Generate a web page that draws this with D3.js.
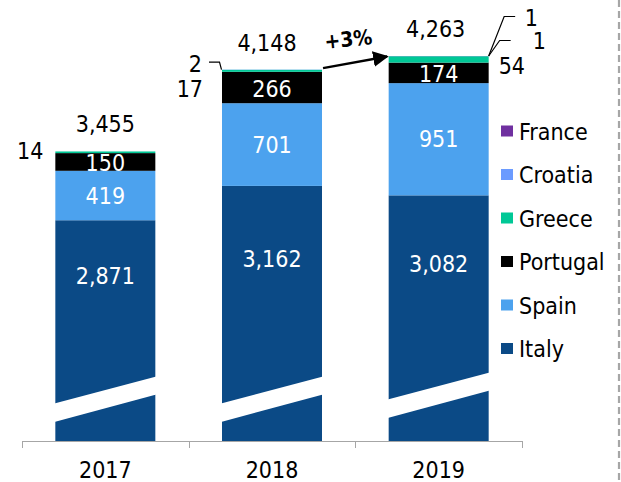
<!DOCTYPE html>
<html><head><meta charset="utf-8">
<script src="https://cdn.jsdelivr.net/npm/d3@7"></script>
<style>
html,body{margin:0;padding:0;background:#fff;}
svg{display:block;font-family:"DejaVu Sans Condensed","DejaVu Sans",sans-serif;font-stretch:condensed;}
</style></head>
<body>
<svg id="c" width="621" height="482"></svg>
<script>
const years = ["2017", "2018", "2019"];
const italy = [2871, 3162, 3082];
const spain = [419, 701, 951];
const portugal = [150, 266, 174];
const greece = [14, 17, 54];
const croatia = [0, 2, 1];
const france = [0, 0, 1];
const totals = [3455, 4148, 4263];
const growthLabel = "+3%";
const axisBreakValue = 1000;

const seriesNames = ["Italy", "Spain", "Portugal", "Greece", "Croatia", "France"];
const seriesValues = [italy, spain, portugal, greece, croatia, france];
const colors = {Italy:"#0b4a86", Spain:"#4ca2ee", Portugal:"#000000", Greece:"#00c896", Croatia:"#6b9bff", France:"#7030a0"};
const legendOrder = ["France", "Croatia", "Greece", "Portugal", "Spain", "Italy"];
const FS = 23;

const rows = years.map((yr, i) => {
  const r = {year: yr};
  seriesNames.forEach((s, j) => r[s] = seriesValues[j][i]);
  return r;
});

const svg = d3.select("#c");
const x = d3.scaleBand().domain(years).range([22, 522]).paddingInner(0.4).paddingOuter(0.2);
const y = d3.scaleLinear().domain([axisBreakValue, d3.max(totals)]).range([441, 56]);
const stack = d3.stack().keys(seriesNames)(rows);

// bars
stack.forEach(layer => {
  svg.append("g").selectAll("rect").data(layer).join("rect")
    .attr("x", d => x(d.data.year))
    .attr("width", x.bandwidth())
    .attr("y", d => y(Math.max(d[1], axisBreakValue)))
    .attr("height", d => Math.max(0, y(Math.max(d[0], axisBreakValue)) - y(Math.max(d[1], axisBreakValue))))
    .attr("fill", colors[layer.key]);
});

// axis break bands
years.forEach((yr, i) => {
  const x0 = x(yr), x1 = x0 + x.bandwidth(), b = y(axisBreakValue) - (i === 2 ? 4 : 0);
  svg.append("path")
    .attr("d", `M${x0-1},${b-37.5}L${x1+1},${b-64.5}L${x1+1},${b-46.5}L${x0-1},${b-19}Z`)
    .attr("fill", "#fff");
});

// axis
const base = y(axisBreakValue);
svg.append("line").attr("x1", 22).attr("x2", 522).attr("y1", base + 0.5).attr("y2", base + 0.5)
  .attr("stroke", "#a6a6a6").attr("stroke-width", 1);
const step = x.step();
const tickXs = years.map(yr => x(yr) - step * 0.2).concat([x(years[years.length-1]) + x.bandwidth() + step * 0.2]);
svg.selectAll(".tk").data(tickXs).join("line")
  .attr("x1", d => Math.round(d) + 0.5).attr("x2", d => Math.round(d) + 0.5)
  .attr("y1", base).attr("y2", base + 7).attr("stroke", "#a6a6a6");
svg.selectAll(".yl").data(years).join("text")
  .attr("x", d => x(d) + x.bandwidth() / 2).attr("y", base + 37)
  .attr("text-anchor", "middle").attr("font-size", FS).attr("fill", "#000").text(d => d);

const fmt = d3.format(",");
// inside labels
rows.forEach((r, i) => {
  const cx = x(r.year) + x.bandwidth() / 2;
  svg.append("text").attr("x", cx).attr("y", y(r.Italy / 2 + axisBreakValue - 40) + 8)
    .attr("text-anchor", "middle").attr("font-size", FS).attr("fill", "#fff").text(fmt(r.Italy));
  const sp0 = r.Italy, sp1 = r.Italy + r.Spain;
  svg.append("text").attr("x", cx).attr("y", (y(sp0) + y(sp1)) / 2 + 8)
    .attr("text-anchor", "middle").attr("font-size", FS).attr("fill", "#fff").text(fmt(r.Spain));
  const p1 = sp1 + r.Portugal;
  svg.append("text").attr("x", cx).attr("y", (y(sp1) + y(p1)) / 2 + 9)
    .attr("text-anchor", "middle").attr("font-size", FS).attr("fill", "#fff").text(fmt(r.Portugal));
  svg.append("text").attr("x", cx + (i === 1 ? -5 : (i === 2 ? -3 : 0))).attr("y", y(totals[i]) - 19)
    .attr("text-anchor", "middle").attr("font-size", FS).attr("fill", "#000").text(fmt(totals[i]));
});

// outside small labels
function lbl(tx, ty, anchor, t) {
  svg.append("text").attr("x", tx).attr("y", ty).attr("text-anchor", anchor)
    .attr("font-size", FS).attr("fill", "#000").text(t);
}
function leader(pts) {
  svg.append("path").attr("d", d3.line()(pts)).attr("fill", "none").attr("stroke", "#000").attr("stroke-width", 1.2);
}
{
  const xl = x(years[0]), yt = y(totals[0]);
  lbl(xl - 12, yt + 8, "end", fmt(greece[0]));
}
{
  const xl = x(years[1]), yt = y(totals[1]);
  lbl(xl - 19, yt + 27, "end", fmt(greece[1]));
  lbl(xl - 20, yt + 2, "end", fmt(croatia[1]));
  leader([[xl - 13, yt - 7.5], [xl - 2.5, yt - 7.5], [xl - 0.5, yt]]);
}
{
  const xr = x(years[2]) + x.bandwidth(), yt = y(totals[2]);
  lbl(xr + 10, yt + 18, "start", fmt(greece[2]));
  leader([[xr, yt], [xr + 11, yt - 15.5], [xr + 22, yt - 15.5]]);
  lbl(xr + 44, yt - 7, "start", fmt(croatia[2]));
  leader([[xr, yt], [xr + 15.5, yt - 39.5], [xr + 26.5, yt - 39.5]]);
  lbl(xr + 36, yt - 30, "start", fmt(france[2]));
}

// growth arrow
{
  const xa = x(years[1]) + x.bandwidth() + 1, ya = y(totals[1]) - 1.5;
  const xb = x(years[2]) - 1.5, yb = y(totals[2]) + 0.5;
  svg.append("defs").append("marker").attr("id", "ah").attr("viewBox", "0 0 10 10")
    .attr("refX", 9).attr("refY", 5).attr("markerWidth", 6.5).attr("markerHeight", 6.5)
    .attr("markerUnits", "strokeWidth").attr("orient", "auto")
    .append("path").attr("d", "M0,0L10,5L0,10Z").attr("fill", "#000");
  svg.append("line").attr("x1", xa).attr("y1", ya).attr("x2", xb).attr("y2", yb)
    .attr("stroke", "#000").attr("stroke-width", 2.4).attr("marker-end", "url(#ah)");
  svg.append("text").attr("transform", `translate(${(xa + xb) / 2 - 6},${yb - 10}) rotate(-6)`)
    .attr("text-anchor", "middle").attr("font-size", 21).attr("font-weight", "bold").attr("fill", "#000")
    .text(growthLabel);
}

// legend
const lg = svg.append("g");
legendOrder.forEach((s, i) => {
  const ly = 131.5 + i * 43.5;
  lg.append("rect").attr("x", 501).attr("y", ly - 6).attr("width", 12).attr("height", 11).attr("fill", colors[s]);
  lg.append("text").attr("x", 519).attr("y", ly + 8).attr("font-size", FS).attr("fill", "#000").text(s);
});

// dashed separator
svg.append("line").attr("x1", 619).attr("x2", 619).attr("y1", 0).attr("y2", 482)
  .attr("stroke", "#a6a6a6").attr("stroke-width", 2.2).attr("stroke-dasharray", "7,4");
</script>
</body></html>
